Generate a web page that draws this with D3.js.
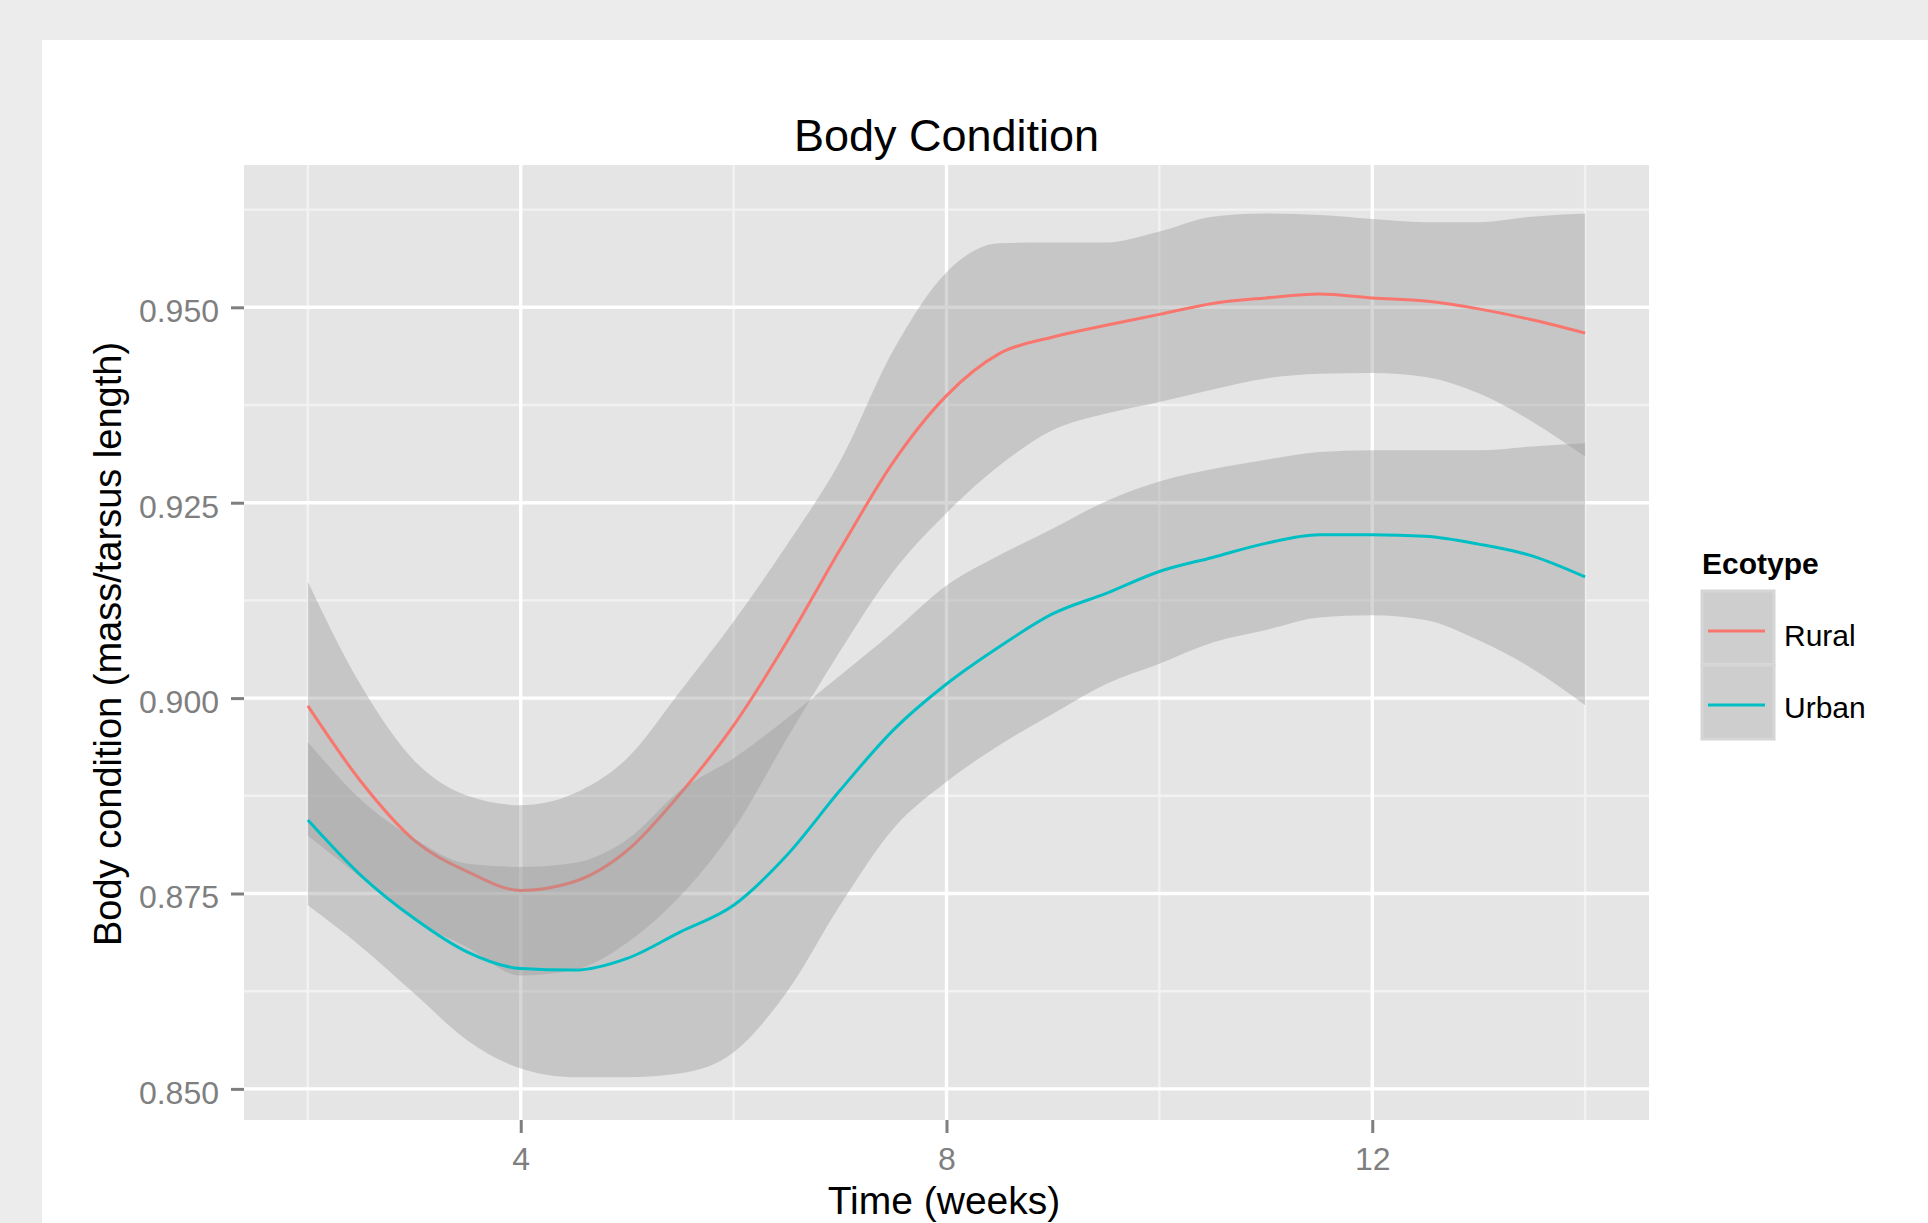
<!DOCTYPE html>
<html>
<head>
<meta charset="utf-8">
<script src="https://cdn.jsdelivr.net/npm/d3@7"></script>
<style>
  body { margin: 0; background: #ececec; }
  text { font-family: "Liberation Sans", Arial, sans-serif; }
</style>
</head>
<body>
<div id="chart"></div>
<script>
// data (loess fit with its confidence band)
var weeks = [2, 2.5, 3, 3.5, 4, 4.5, 5, 5.5, 6, 6.5, 7, 7.5, 8,
             8.5, 9, 9.5, 10, 10.5, 11, 11.5, 12, 12.5, 13, 13.5, 14];

var ruralFit   = [0.8990, 0.8893, 0.8818, 0.8778, 0.8754, 0.8765, 0.8805, 0.8878, 0.8965, 0.9072, 0.9190, 0.9302, 0.9387,
                  0.9441, 0.9462, 0.9477, 0.9491, 0.9505, 0.9512, 0.9517, 0.9512, 0.9508, 0.9498, 0.9484, 0.9467];
var ruralUpper = [0.9149, 0.9016, 0.8920, 0.8875, 0.8863, 0.8878, 0.8923, 0.9009, 0.9098, 0.9196, 0.9303, 0.9445, 0.9545,
                  0.9582, 0.9583, 0.9583, 0.9597, 0.9616, 0.9620, 0.9618, 0.9613, 0.9609, 0.9609, 0.9616, 0.9620];
var ruralLower = [0.8824, 0.8770, 0.8716, 0.8681, 0.8645, 0.8652, 0.8687, 0.8747, 0.8832, 0.8948, 0.9060, 0.9162, 0.9237,
                  0.9298, 0.9343, 0.9364, 0.9379, 0.9395, 0.9409, 0.9415, 0.9416, 0.9411, 0.9390, 0.9354, 0.9309];

var urbanFit   = [0.8844, 0.8773, 0.8718, 0.8675, 0.8654, 0.8652, 0.8667, 0.8701, 0.8735, 0.8799, 0.8882, 0.8959, 0.9018,
                  0.9066, 0.9108, 0.9134, 0.9162, 0.9180, 0.9198, 0.9209, 0.9209, 0.9207, 0.9197, 0.9182, 0.9155];
var urbanUpper = [0.8944, 0.8870, 0.8820, 0.8788, 0.8784, 0.8789, 0.8819, 0.8882, 0.8923, 0.8974, 0.9029, 0.9085, 0.9144,
                  0.9183, 0.9217, 0.9252, 0.9277, 0.9293, 0.9305, 0.9315, 0.9317, 0.9317, 0.9317, 0.9322, 0.9326];
var urbanLower = [0.8735, 0.8682, 0.8622, 0.8562, 0.8526, 0.8515, 0.8515, 0.8520, 0.8547, 0.8624, 0.8735, 0.8833, 0.8893,
                  0.8940, 0.8980, 0.9018, 0.9044, 0.9071, 0.9087, 0.9103, 0.9106, 0.9100, 0.9074, 0.9038, 0.8991];

var ecotypes = ['Rural', 'Urban'];
var ecoColors = ['#F8766D', '#00BFC4'];

// tick values
var xMajor = [4, 8, 12];
var xMinor = [2, 6, 10, 14];
var yMajor = [0.850, 0.875, 0.900, 0.925, 0.950];
var yMinor = [0.8625, 0.8875, 0.9125, 0.9375, 0.9625];

// build rows per series
function makeRows(fit, lower, upper) {
    return weeks.map(function(w, i) {
        return {week: w, fit: fit[i], lower: lower[i], upper: upper[i]};
    });
}
var series = [
    {name: 'Rural', color: ecoColors[0], rows: makeRows(ruralFit, ruralLower, ruralUpper)},
    {name: 'Urban', color: ecoColors[1], rows: makeRows(urbanFit, urbanLower, urbanUpper)}
];

// sizes
var svgWidth = 1928, svgHeight = 1223;
var margin = {top: 165, left: 244},
    width = 1405,
    height = 955;

var svg = d3.select('#chart')
    .append('svg')
    .attr('width', svgWidth)
    .attr('height', svgHeight)
    .style('display', 'block');

// outer grey and white plot background
svg.append('rect')
    .attr('width', svgWidth)
    .attr('height', svgHeight)
    .attr('fill', '#ececec');
svg.append('rect')
    .attr('x', 42)
    .attr('y', 40)
    .attr('width', svgWidth - 42)
    .attr('height', svgHeight - 40)
    .attr('fill', '#ffffff');

var chartGroup = svg.append('g')
    .attr('transform', `translate(${margin.left}, ${margin.top})`);

// scales
var x = d3.scaleLinear()
    .domain([1.4, 14.6])
    .range([0, width]);
var y = d3.scaleLinear()
    .domain([0.84602, 0.96821])
    .range([height, 0]);

// panel
chartGroup.append('rect')
    .attr('width', width)
    .attr('height', height)
    .attr('fill', '#e5e5e5');

// minor grid
chartGroup.selectAll('.yminor')
    .data(yMinor)
    .enter()
    .append('line')
    .attr('x1', 0).attr('x2', width)
    .attr('y1', d => y(d)).attr('y2', d => y(d))
    .attr('stroke', '#f2f2f2')
    .attr('stroke-width', 2.4);
chartGroup.selectAll('.xminor')
    .data(xMinor)
    .enter()
    .append('line')
    .attr('y1', 0).attr('y2', height)
    .attr('x1', d => x(d)).attr('x2', d => x(d))
    .attr('stroke', '#f2f2f2')
    .attr('stroke-width', 2.4);

// major grid
chartGroup.selectAll('.ymajor')
    .data(yMajor)
    .enter()
    .append('line')
    .attr('x1', 0).attr('x2', width)
    .attr('y1', d => y(d)).attr('y2', d => y(d))
    .attr('stroke', '#ffffff')
    .attr('stroke-width', 3.4);
chartGroup.selectAll('.xmajor')
    .data(xMajor)
    .enter()
    .append('line')
    .attr('y1', 0).attr('y2', height)
    .attr('x1', d => x(d)).attr('x2', d => x(d))
    .attr('stroke', '#ffffff')
    .attr('stroke-width', 3.4);

// ribbons and lines, drawn group by group like geom_smooth
var area = d3.area()
    .x(d => x(d.week))
    .y0(d => y(d.lower))
    .y1(d => y(d.upper))
    .curve(d3.curveMonotoneX);
var line = d3.line()
    .x(d => x(d.week))
    .y(d => y(d.fit))
    .curve(d3.curveMonotoneX);

series.forEach(function(s) {
    chartGroup.append('path')
        .datum(s.rows)
        .attr('d', area)
        .attr('fill', '#999999')
        .attr('fill-opacity', 0.4);
    chartGroup.append('path')
        .datum(s.rows)
        .attr('d', line)
        .attr('fill', 'none')
        .attr('stroke', s.color)
        .attr('stroke-width', 3);
});

// axes
var leftAxis = d3.axisLeft(y)
    .tickValues(yMajor)
    .tickFormat(d3.format('.3f'))
    .tickSize(13)
    .tickPadding(12);
var bottomAxis = d3.axisBottom(x)
    .tickValues(xMajor)
    .tickFormat(d3.format('d'))
    .tickSize(13)
    .tickPadding(14);

var yAxis = chartGroup.append('g').call(leftAxis);
var xAxis = chartGroup.append('g')
    .attr('transform', `translate(0, ${height})`)
    .call(bottomAxis);

[xAxis, yAxis].forEach(function(ax) {
    ax.select('.domain').remove();
    ax.selectAll('line')
        .attr('stroke', '#7f7f7f')
        .attr('stroke-width', 3);
    ax.selectAll('text')
        .attr('fill', '#7f7f7f')
        .style('font-size', '32px')
        .style('font-family', '"Liberation Sans", Arial, sans-serif');
});
yAxis.selectAll('text').attr('dy', '0.45em');

// titles
svg.append('text')
    .attr('x', margin.left + width / 2)
    .attr('y', 151)
    .attr('text-anchor', 'middle')
    .style('font-size', '45px')
    .text('Body Condition');

svg.append('text')
    .attr('x', 944)
    .attr('y', 1214)
    .attr('text-anchor', 'middle')
    .style('font-size', '39px')
    .text('Time (weeks)');

svg.append('text')
    .attr('transform', 'translate(121, 644) rotate(-90)')
    .attr('text-anchor', 'middle')
    .style('font-size', '38px')
    .text('Body condition (mass/tarsus length)');

// legend
var legend = svg.append('g')
    .attr('transform', 'translate(1702, 574)');

legend.append('text')
    .attr('x', 0)
    .attr('y', 0)
    .style('font-size', '30px')
    .style('font-weight', 'bold')
    .text('Ecotype');

var keys = legend.selectAll('.key')
    .data(ecotypes)
    .enter()
    .append('g')
    .attr('transform', (d, i) => `translate(0, ${17 + i * 74})`);

keys.append('rect')
    .attr('width', 72)
    .attr('height', 74)
    .attr('fill', '#f2f2f2')
    .attr('stroke', '#ffffff')
    .attr('stroke-width', 3);
keys.append('rect')
    .attr('x', -1.5)
    .attr('y', -1.5)
    .attr('width', 75)
    .attr('height', 77)
    .attr('fill', '#999999')
    .attr('fill-opacity', 0.4);
keys.append('line')
    .attr('x1', 6)
    .attr('x2', 63)
    .attr('y1', 40)
    .attr('y2', 40)
    .attr('stroke', (d, i) => ecoColors[i])
    .attr('stroke-width', 3);
keys.append('text')
    .attr('x', 82)
    .attr('y', (d, i) => 55 - i * 2)
    .style('font-size', '30px')
    .text(d => d);
</script>
</body>
</html>
